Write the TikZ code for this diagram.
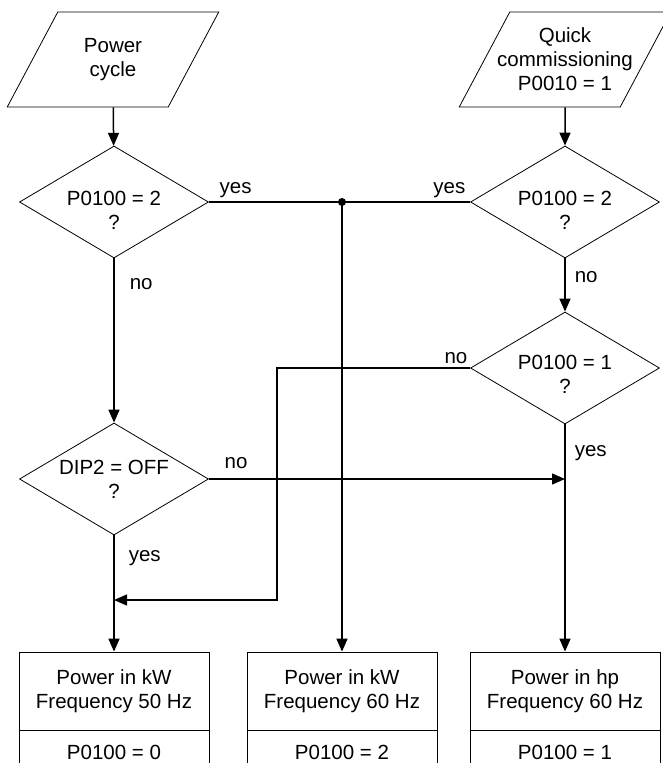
\documentclass[tikz,border=0pt]{standalone}
\usepackage{fontspec}
\setmainfont{Liberation Sans}
\usetikzlibrary{arrows.meta,positioning,shapes.geometric,calc}

\begin{document}
\begin{tikzpicture}[
  x=1pt,y=-1pt,
  font=\fontsize{20.5}{24}\selectfont,
  io/.style={draw,trapezium,trapezium left angle=61,trapezium right angle=119,trapezium stretches=true,minimum width=212pt,minimum height=95pt,inner sep=0pt,line width=0.8pt},
  iotext/.style={align=center,inner sep=0pt},
  decision/.style={draw,diamond,aspect=1.7,minimum width=189pt,minimum height=112pt,inner sep=0pt,align=center,line width=0.8pt},
  result/.style={draw,rectangle,minimum width=190pt,minimum height=78pt,inner sep=0pt,align=center,line width=0.8pt},
  param/.style={draw,rectangle,minimum width=190pt,minimum height=44pt,inner sep=0pt,line width=0.8pt},
  conn/.style={line width=1.5pt},
  arr/.style={-{Triangle[length=13pt,width=11pt]},line width=1.5pt},
  lbl/.style={inner sep=0pt},
]
\useasboundingbox (0,0) rectangle (662,763);

% start points
\node[io,label={[iotext]center:{Power\\cycle}}] (power) at (113,59.5) {\phantom{M}};
\node[io,label={[iotext]center:{Quick\\commissioning\\P0010 = 1}}] (quick) at (565,59.5) {\phantom{M}};

% decisions
\node[decision,text height=54pt] (q1) at (114,202) {P0100 = 2\\?};
\node[decision,text height=54pt] (q2) at (565,202) {P0100 = 2\\?};
\node[decision,text height=50pt] (q3) at (565,368) {P0100 = 1\\?};
\node[decision] (dip) at (114,479) {DIP2 = OFF\\?};

% results
\node[result] (r0) at (114,691) {Power in kW\\Frequency 50 Hz};
\node[result] (r2) at (342,691) {Power in kW\\Frequency 60 Hz};
\node[result] (r1) at (565,691) {Power in hp\\Frequency 60 Hz};
\node[param,below=0pt of r0] (p0) {P0100 = 0};
\node[param,below=0pt of r2] (p2) {P0100 = 2};
\node[param,below=0pt of r1] (p1) {P0100 = 1};

\coordinate (tap) at (342,202);
\coordinate (merge) at (114,600);

\draw[arr] (power) -- (q1);
\draw[arr] (quick) -- (q2);
\draw[conn] (q1.east) -- node[lbl,pos=0,anchor=base west,shift={(10pt,9pt)}] {yes}
  (q2.west) node[lbl,anchor=base east,shift={(-4pt,9pt)}] {yes};
\fill (tap) circle (4pt);
\draw[arr] (tap) -- (r2.north);
\draw[arr] (q1.south) -- node[lbl,pos=0,anchor=base west,shift={(15pt,-31pt)}] {no} (dip.north);
\draw[arr] (q2.south) -- node[lbl,pos=0,anchor=base west,shift={(9pt,-24pt)}] {no} (q3.north);
\draw[arr] (q3.west) node[lbl,anchor=base east,shift={(-2pt,5pt)}] {no}
  -| ([xshift=163pt]merge) -- (merge);
\draw[arr] (dip.east) -- node[lbl,pos=0,anchor=base west,shift={(15pt,11pt)}] {no} (dip.east -| q3.south);
\draw[arr] (dip.south) -- node[lbl,pos=0,anchor=base west,shift={(14pt,-26pt)}] {yes} (r0.north);
\draw[arr] (q3.south) -- node[lbl,pos=0,anchor=base west,shift={(9pt,-32pt)}] {yes} (r1.north);
\end{tikzpicture}
\end{document}
